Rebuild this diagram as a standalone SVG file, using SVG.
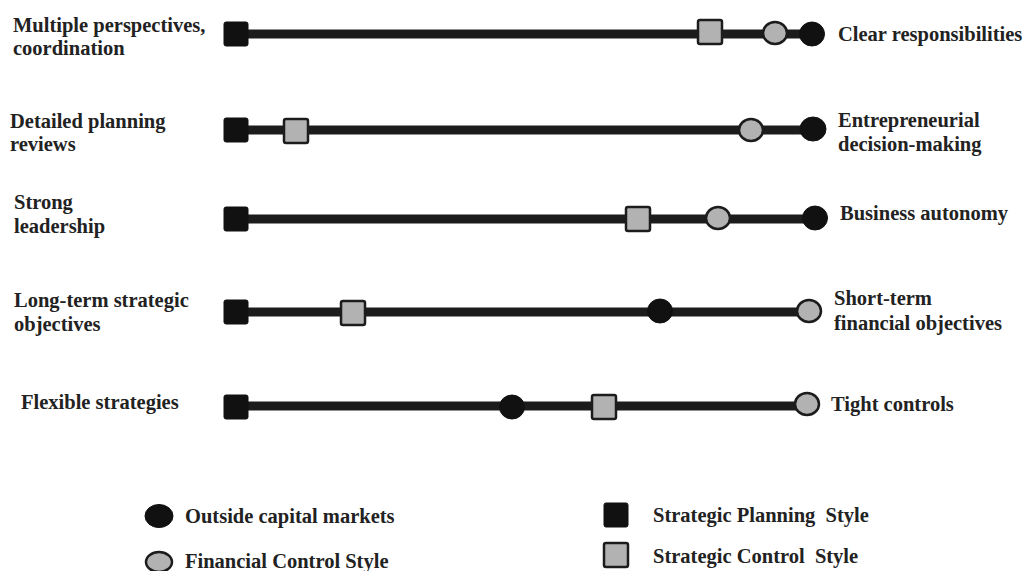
<svg xmlns="http://www.w3.org/2000/svg" width="1027" height="571" viewBox="0 0 1027 571">
  <style>
    text { font-family: "Liberation Serif", "Times New Roman", serif; font-weight: bold; font-size: 20.5px; fill: #222; }
    .bar { stroke: #1c1c1c; stroke-width: 9; stroke-linecap: round; }
    .plan { fill: #111; stroke: #111; stroke-width: 1; }
    .ctrl { fill: #b2b2b2; stroke: #1c1c1c; stroke-width: 2.5; }
    .fin { fill: #b2b2b2; stroke: #1c1c1c; stroke-width: 2.5; }
    .mkt { fill: #111; stroke: #111; stroke-width: 1; }
  </style>
  <defs>
    <rect id="sq" x="-12" y="-12" width="24" height="24" rx="2"/>
  </defs>
  <rect width="1027" height="571" fill="#fff"/>

  <!-- spectrum bars -->
  <g id="connectors">
    <line class="bar" x1="236" y1="34" x2="812" y2="34"/>
    <line class="bar" x1="236" y1="130" x2="813" y2="130"/>
    <line class="bar" x1="236" y1="219" x2="815" y2="219"/>
    <line class="bar" x1="236" y1="312" x2="810" y2="312"/>
    <line class="bar" x1="236" y1="406" x2="807" y2="406"/>
  </g>

  <!-- row 1 -->
  <g id="row1">
    <use href="#sq" class="plan" x="236" y="34"/>
    <use href="#sq" class="ctrl" x="710" y="32"/>
    <ellipse class="fin" cx="775" cy="33" rx="12" ry="11"/>
    <ellipse class="mkt" cx="812" cy="34" rx="12.5" ry="12"/>
    <text x="13" y="32">Multiple perspectives,</text>
    <text x="13" y="55">coordination</text>
    <text x="838" y="41">Clear responsibilities</text>
  </g>

  <!-- row 2 -->
  <g id="row2">
    <use href="#sq" class="plan" x="236" y="130"/>
    <use href="#sq" class="ctrl" x="296" y="131"/>
    <ellipse class="fin" cx="751" cy="130" rx="12" ry="11"/>
    <ellipse class="mkt" cx="813" cy="129" rx="13" ry="12"/>
    <text x="10" y="128">Detailed planning</text>
    <text x="10" y="151">reviews</text>
    <text x="838" y="127">Entrepreneurial</text>
    <text x="838" y="151">decision-making</text>
  </g>

  <!-- row 3 -->
  <g id="row3">
    <use href="#sq" class="plan" x="236" y="219"/>
    <use href="#sq" class="ctrl" x="638" y="219"/>
    <ellipse class="fin" cx="718" cy="218" rx="12" ry="11"/>
    <ellipse class="mkt" cx="815" cy="218" rx="12.5" ry="12"/>
    <text x="14" y="209">Strong</text>
    <text x="14" y="233">leadership</text>
    <text x="840" y="220">Business autonomy</text>
  </g>

  <!-- row 4 -->
  <g id="row4">
    <use href="#sq" class="plan" x="236" y="312"/>
    <use href="#sq" class="ctrl" x="353" y="313"/>
    <ellipse class="mkt" cx="660" cy="311" rx="12.5" ry="12"/>
    <ellipse class="fin" cx="809" cy="311" rx="12" ry="11"/>
    <text x="14" y="307">Long-term strategic</text>
    <text x="14" y="331">objectives</text>
    <text x="834" y="305">Short-term</text>
    <text x="834" y="330">financial objectives</text>
  </g>

  <!-- row 5 -->
  <g id="row5">
    <use href="#sq" class="plan" x="236" y="407"/>
    <ellipse class="mkt" cx="512" cy="407" rx="12.5" ry="12"/>
    <use href="#sq" class="ctrl" x="604" y="407"/>
    <ellipse class="fin" cx="807" cy="404" rx="12" ry="11"/>
    <text x="21" y="409">Flexible strategies</text>
    <text x="831" y="411">Tight controls</text>
  </g>

  <!-- legend -->
  <g id="legend">
    <ellipse class="mkt" cx="159" cy="516" rx="14" ry="11.5"/>
    <text x="185" y="523">Outside capital markets</text>
    <ellipse class="fin" cx="159" cy="562" rx="13" ry="10"/>
    <text x="185" y="568">Financial Control Style</text>
    <use href="#sq" class="plan" x="616" y="515"/>
    <text x="653" y="522" xml:space="preserve">Strategic Planning  Style</text>
    <use href="#sq" class="ctrl" x="616" y="555"/>
    <text x="653" y="563" xml:space="preserve">Strategic Control  Style</text>
  </g>
</svg>
